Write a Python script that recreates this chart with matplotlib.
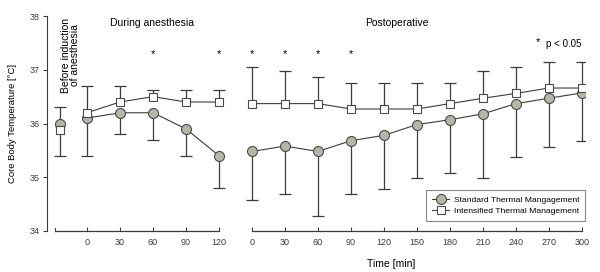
import matplotlib

matplotlib.use("Agg")
import matplotlib.pyplot as plt
import numpy as np

# x labels for the two time segments
intra_labels = ["0", "30", "60", "90", "120"]
post_labels = ["0", "30", "60", "90", "120", "150", "180", "210", "240", "270", "300"]

# Standard thermal management (mean, SD drawn downward)
std_before = 36.0
std_before_sd = 0.6
std_intra = [36.1, 36.2, 36.2, 35.9, 35.4]
std_intra_sd = [0.7, 0.4, 0.5, 0.5, 0.6]
std_post = [35.48, 35.58, 35.48, 35.68, 35.78, 35.98, 36.07, 36.18, 36.37, 36.47, 36.57]
std_post_sd = [0.9, 0.9, 1.2, 1.0, 1.0, 1.0, 1.0, 1.2, 1.0, 0.9, 0.9]

# Intensified thermal management (mean, SD drawn upward)
int_before = 35.88
int_before_sd = 0.42
int_intra = [36.2, 36.4, 36.5, 36.4, 36.4]
int_intra_sd = [0.5, 0.3, 0.13, 0.23, 0.23]
int_post = [36.37, 36.37, 36.37, 36.27, 36.27, 36.27, 36.37, 36.47, 36.56, 36.66, 36.66]
int_post_sd = [0.69, 0.6, 0.49, 0.49, 0.49, 0.49, 0.39, 0.5, 0.49, 0.49, 0.49]

# significance markers (p < 0.05)
sig_intra = [False, False, True, False, True]
sig_post = [True, True, True, True, False, False, False, False, False, False, False]

plt.rcParams["font.family"] = ["Liberation Sans", "DejaVu Sans"]

LINE = "#3c3c3c"
EDGE = "#4a4a4a"
FILL = "#b6b6a8"

fig = plt.figure(figsize=(6.0, 2.72), dpi=100)
ax = fig.add_axes([46.7 / 600, 1 - 231 / 272, (585 - 46.7) / 600, (231 - 16) / 272])

x_before = -0.82
x_intra = np.arange(len(intra_labels))
x_post = np.arange(len(post_labels)) + len(intra_labels)
cap = 8.6


def draw_series(xs, ys, sds, direction, marker, face, msize):
    xs = np.atleast_1d(xs)
    ys = np.atleast_1d(np.asarray(ys, dtype=float))
    ends = ys + direction * np.atleast_1d(np.asarray(sds, dtype=float))
    ax.vlines(xs, ys, ends, color=LINE, lw=0.9, zorder=1)
    ax.plot(xs, ends, ls="none", marker="_", ms=cap, mew=0.9, color=LINE, zorder=1)
    ax.plot(xs, ys, "-", color=LINE, lw=0.8, marker=marker, ms=msize,
            mfc=face, mec=EDGE, mew=0.8, zorder=3)


# standard: circles, bars down
draw_series(x_before, std_before, std_before_sd, -1, "o", FILL, 7.2)
draw_series(x_intra, std_intra, std_intra_sd, -1, "o", FILL, 7.2)
draw_series(x_post, std_post, std_post_sd, -1, "o", FILL, 7.2)
# intensified: squares, bars up
draw_series(x_before, int_before, int_before_sd, 1, "s", "white", 6.2)
draw_series(x_intra, int_intra, int_intra_sd, 1, "s", "white", 6.2)
draw_series(x_post, int_post, int_post_sd, 1, "s", "white", 6.2)

# stars
for xi, s in zip(list(x_intra) + list(x_post), sig_intra + sig_post):
    if s:
        ax.text(xi, 37.3, "*", ha="center", va="center", fontsize=8)

ax.text(13.67, 37.52, "*", ha="center", va="center", fontsize=8)
ax.text(13.92, 37.48, "p < 0.05", ha="left", va="center", fontsize=7)

ax.text(1.97, 37.97, "During anesthesia", ha="center", va="top", fontsize=7.5)
ax.text(9.39, 37.97, "Postoperative", ha="center", va="top", fontsize=7.5)
ax.text(-0.5, 37.97, "Before induction\nof anesthesia", rotation=90, ha="center",
        va="top", multialignment="center", fontsize=7.5, linespacing=0.95)

ax.set_ylim(34, 38)
ax.set_xlim(-1.22, 15.09)
ax.set_yticks([34, 35, 36, 37, 38])
ax.tick_params(axis="y", direction="out", length=3, width=0.8, labelsize=6.5, colors=LINE, pad=2)
ax.set_xticks(list(x_intra) + list(x_post))
ax.set_xticklabels(intra_labels + post_labels)
ax.tick_params(axis="x", direction="in", length=3, width=0.8, labelsize=6.5, colors=LINE, pad=5)

for side in ["top", "right", "bottom"]:
    ax.spines[side].set_visible(False)
ax.spines["left"].set_color(LINE)
ax.spines["left"].set_linewidth(0.8)

# broken time axis
tr = ax.get_xaxis_transform()
ax.plot([-0.97, 4], [0, 0], transform=tr, color=LINE, lw=0.9, clip_on=False)
ax.plot([-0.97, -0.97], [0, 0.014], transform=tr, color=LINE, lw=0.8, clip_on=False)
ax.plot([5, 15], [0, 0], transform=tr, color=LINE, lw=0.9, clip_on=False)

ax.set_ylabel("Core Body Temperature [°C]", fontsize=6.8)
ax.yaxis.set_label_coords(-(46.7 - 17) / (585 - 46.7), 0.5)
ax.set_xlabel("Time [min]", fontsize=7.5)
ax.xaxis.set_label_coords((391 - 46.7) / (585 - 46.7), -0.13)

handles = [
    plt.Line2D([], [], color=LINE, lw=0.8, marker="o", ms=7.2, mfc=FILL, mec=EDGE, mew=0.8),
    plt.Line2D([], [], color=LINE, lw=0.8, marker="s", ms=6.2, mfc="white", mec=EDGE, mew=0.8),
]
leg = ax.legend(handles, ["Standard Thermal Mangagement", "Intensified Thermal Management"],
                loc="lower right", bbox_to_anchor=(1.0, 10 / 215), borderaxespad=0,
                fontsize=6.1, fancybox=False, framealpha=1, handlelength=2.0,
                handletextpad=0.5, labelspacing=0.35, borderpad=0.7)
leg.get_frame().set_edgecolor("#888888")
leg.get_frame().set_linewidth(0.8)

fig.savefig("out.png", dpi=100)
